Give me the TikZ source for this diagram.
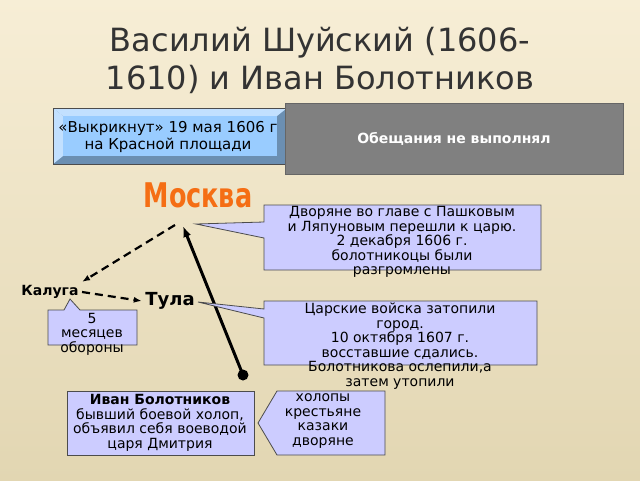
\documentclass[tikz,border=0pt]{standalone}
\usepackage{fontspec}
\setmainfont{DejaVu Sans}
\usetikzlibrary{positioning,arrows.meta}
\definecolor{callfill}{HTML}{CCCCFF}
\definecolor{bluebox}{HTML}{99CCFF}
\tikzset{
	x=1pt, y=-1pt,
	callbox/.style={draw=black!70, fill=callfill, line width=0.8pt},
	calltext/.style={align=center, font=\fontsize{14}{14.5}\selectfont, inner sep=0pt},
	town/.style={font=\bfseries\fontsize{14}{14}\selectfont},
	route/.style={line width=2.2pt, dashed, dash pattern=on 8pt off 5pt, -{Latex[length=8pt]}}
}
\begin{document}
\begin{tikzpicture}
	\useasboundingbox (0,0) rectangle (640,480);
	\shade[top color={rgb,255:red,247;green,238;blue,214}, bottom color={rgb,255:red,226;green,214;blue,178}] (0,0) rectangle (640,480);

	% title
	\node(title) at (320,60) [align=center, font=\fontsize{32}{38}\selectfont, text=black!80] {Василий Шуйский (1606-\\1610) и Иван Болотников};

	% bevel box
	\fill[bluebox!70!black] (53,108) rectangle (287,164);
	\fill[bluebox!60!white] (53,108) -- (287,108) -- (277,116) -- (63,116) -- cycle;
	\fill[bluebox!60!white] (53,108) -- (63,116) -- (63,156) -- (53,164) -- cycle;
	\fill[bluebox] (63,116) rectangle (277,156);
	\draw[black!70] (53,108) rectangle (287,164);
	\node(shout) at (168,137) [calltext, font=\fontsize{15}{17}\selectfont] {«Выкрикнут» 19 мая 1606 г\\на Красной площади};

	% gray box
	\node(promise) [draw=black!60, fill=black!50, minimum width=338pt, minimum height=71pt, text=white, font=\bfseries\fontsize{14}{14}\selectfont] at (454,139) {Обещания не выполнял};

	% towns
	\node(moscow) at (198,195) [text={rgb,255:red,245;green,110;blue,20}, font=\bfseries\fontsize{34}{34}\selectfont, xscale=0.75] {Москва};
	\node(kaluga) at (50,292) [town] {Калуга};
	\node(tula) at (170,301) [town, font=\bfseries\fontsize{18}{18}\selectfont] {Тула};
	\coordinate(mpt) at (183,226);
	\coordinate(start) at (243,375);

	\draw[route] (175,225) -- (kaluga.north east);
	\draw[route] (kaluga.east) -- (tula.west);
	\draw[line width=3pt, -{Latex[length=11pt]}] (start) -- (mpt);
	\fill (start) circle (5.5);

	% callouts
	\draw[callbox] (264,205) -- (541,205) -- (541,270) -- (264,270) -- (264,238) -- (196,224) -- (264,222) -- cycle;
	\node(gentry) at (402,242) [calltext] {Дворяне во главе с Пашковым\\и Ляпуновым перешли к царю.\\2 декабря 1606 г.\\болотникоцы были\\разгромлены};

	\draw[callbox] (264,301) -- (537,301) -- (537,365) -- (264,365) -- (264,318) -- (198,302) -- (264,309) -- cycle;
	\node(flood) at (400,346) [calltext] {Царские войска затопили\\город.\\10 октября 1607 г.\\восставшие сдались.\\Болотникова ослепили,а\\затем утопили};

	\draw[callbox] (48,310) -- (64,310) -- (70,299) -- (80,310) -- (137,310) -- (137,345) -- (48,345) -- cycle;
	\node(months) at (92,334) [calltext] {5\\месяцев\\обороны};

	% bottom
	\draw[callbox] (67,391) rectangle (254,455);
	\node(ivan) at (160,423) [calltext] {\textbf{Иван Болотников}\\бывший боевой холоп,\\объявил себя воеводой\\царя Дмитрия};
	\draw[callbox] (277,391) -- (385,391) -- (385,455) -- (277,455) -- (258,423) -- cycle;
	\node(people) at (323,421) [calltext] {холопы\\крестьяне\\казаки\\дворяне};
\end{tikzpicture}
\end{document}
